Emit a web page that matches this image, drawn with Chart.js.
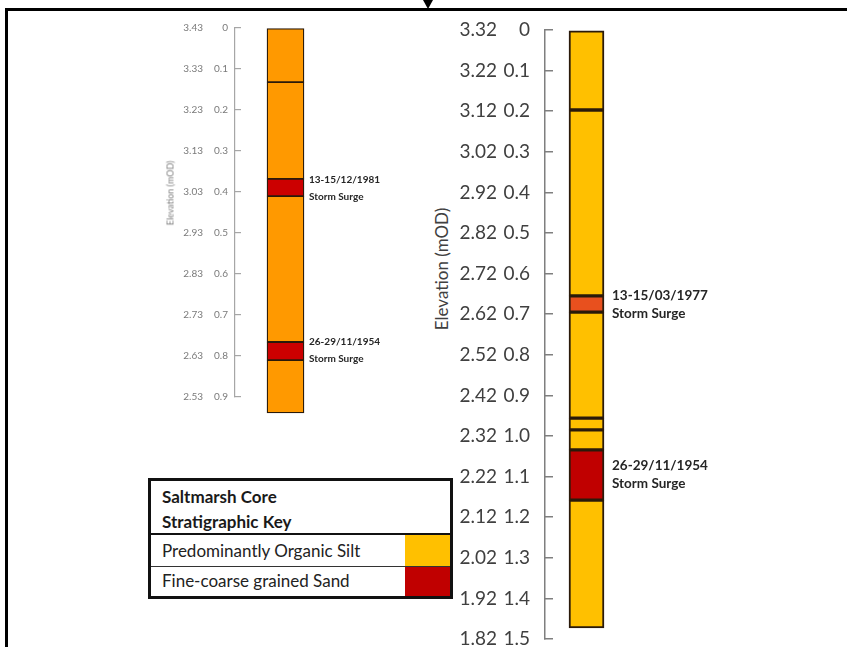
<!DOCTYPE html>
<html>
<head>
<meta charset="utf-8">
<script src="https://cdn.jsdelivr.net/npm/chart.js@4.4.0/dist/chart.umd.min.js"></script>
<style>
  body { margin:0; width:847px; height:647px; overflow:hidden; background:#fff; position:relative; font-family:Lato, "Open Sans", sans-serif; }
  .frame { position:absolute; left:5px; top:8px; width:900px; height:700px; border-left:3px solid #000; border-top:3px solid #000; }
  .arrow { position:absolute; left:423px; top:0; width:0; height:0; border-left:5px solid transparent; border-right:5px solid transparent; border-top:9px solid #000; }
  canvas { position:absolute; }
  #leftCore { left:175px; top:0; }
  #rightCore { left:455px; top:0; }
  .ytitle { position:absolute; white-space:nowrap; transform:translate(-50%,-50%) rotate(-90deg); }
  #leftTitle { left:170px; top:193px; font-size:9px; color:#808080; }
  #rightTitle { left:441px; top:269px; font-size:17px; color:#404040; }
  .key { position:absolute; left:148px; top:478px; width:299px; border:3px solid #111; background:#fff; color:#222; font-size:17px; }
  .key .head { height:54px; border-bottom:2px solid #111; font-weight:bold; padding:3px 0 0 11px; box-sizing:border-box; line-height:25px; color:#1a1a1a; }
  .key .row { display:flex; height:31px; line-height:31px; }
  .key .row + .row { border-top:1px solid #333; height:29px; line-height:28px; }
  .key .lab { flex:1; padding-left:11px; }
  .key .sw { width:45px; }
</style>
</head>
<body>
<div class="frame"></div>
<div class="arrow"></div>

<canvas id="leftCore" width="230" height="430"></canvas>
<canvas id="rightCore" width="300" height="660"></canvas>
<div class="ytitle" id="leftTitle">Elevation (mOD)</div>
<div class="ytitle" id="rightTitle">Elevation (mOD)</div>

<div class="key">
  <div class="head">Saltmarsh Core<br>Stratigraphic Key</div>
  <div class="row"><div class="lab">Predominantly Organic Silt</div><div class="sw" id="swSilt"></div></div>
  <div class="row"><div class="lab">Fine-coarse grained Sand</div><div class="sw" id="swSand"></div></div>
</div>

<script>
// ---- left core (depth below surface, m) ----
const leftTop  = [0, 0.132, 0.368, 0.41, 0.766, 0.81];
const leftBase = [0.132, 0.368, 0.41, 0.766, 0.81, 0.939];
const leftUnit = ['silt','silt','sand','silt','sand','silt'];
const leftDepthTicks = ['0','0.1','0.2','0.3','0.4','0.5','0.6','0.7','0.8','0.9'];
const leftElevTicks  = ['3.43','3.33','3.23','3.13','3.03','2.93','2.83','2.73','2.63','2.53'];
const leftEvents = ['13-15/12/1981','26-29/11/1954'];
const leftEventDepth = [0.371, 0.766];

// ---- right core ----
const rightTop  = [0, 0.197, 0.655, 0.695, 0.956, 0.985, 1.034, 1.158];
const rightBase = [0.197, 0.655, 0.695, 0.956, 0.985, 1.034, 1.158, 1.473];
const rightUnit = ['silt','silt','surge','silt','silt','silt','sand','silt'];
const rightDepthTicks = ['0','0.1','0.2','0.3','0.4','0.5','0.6','0.7','0.8','0.9','1.0','1.1','1.2','1.3','1.4','1.5'];
const rightElevTicks  = ['3.32','3.22','3.12','3.02','2.92','2.82','2.72','2.62','2.52','2.42','2.32','2.22','2.12','2.02','1.92','1.82'];
const rightEvents = ['13-15/03/1977','26-29/11/1954'];
const rightEventDepth = [0.655, 1.074];

const leftColors  = { silt:'#FF9900', sand:'#CC0000' };
const rightColors = { silt:'#FFC000', surge:'#E8501E', sand:'#C00000' };

document.getElementById('swSilt').style.background = rightColors.silt;
document.getElementById('swSand').style.background = rightColors.sand;

// storm surge labels next to the bar
const eventLabels = {
  id: 'eventLabels',
  afterDatasetsDraw(chart, args, o) {
    const ctx = chart.ctx;
    const bar = chart.getDatasetMeta(0).data[0];
    const x = bar.x + bar.width / 2 + o.gap;
    ctx.save();
    ctx.font = 'bold ' + o.size + 'px Lato, sans-serif';
    ctx.fillStyle = '#262626';
    ctx.textBaseline = 'middle';
    o.names.forEach((n, i) => {
      const y = chart.scales.y.getPixelForValue(o.depths[i]);
      ctx.fillText(n, x, y);
      ctx.fillText('Storm Surge', x, y + o.lineHeight);
    });
    ctx.restore();
  }
};

function makeCore(id, cfg) {
  const datasets = cfg.top.map((t, i) => ({
    data: [[t, cfg.base[i]]],
    backgroundColor: cfg.colors[cfg.unit[i]],
    borderColor: '#2a1a0a',
    borderWidth: cfg.border,
    borderSkipped: false,
    grouped: false,
    clip: false,          // core runs a little past the last tick
    barThickness: cfg.barW
  }));
  const vals = cfg.depthTicks.map(Number);
  const setTicks = s => { s.ticks = vals.map(v => ({ value: v })); };
  // fixed axis width, and no extra top/bottom room for the labels
  const fitTo = w => s => { s.width = w; s.paddingTop = 0; s.paddingBottom = 0; };
  new Chart(document.getElementById(id), {
    type: 'bar',
    data: { labels: ['core'], datasets },
    plugins: [eventLabels],
    options: {
      responsive: false,
      animation: false,
      layout: { padding: cfg.pad },
      scales: {
        x: { display: false },
        y: {
          min: 0, max: vals[vals.length - 1], reverse: true, weight: 0,
          afterBuildTicks: setTicks,
          afterFit: fitTo(cfg.depthW),
          border: { display: true, color: cfg.axisColor, width: cfg.axisW },
          // negative tick length puts the tick marks on the inner side of the axis line
          grid: { drawOnChartArea: false, drawTicks: true, tickLength: -cfg.tickLen, color: cfg.axisColor, lineWidth: cfg.axisW },
          ticks: { padding: cfg.labelGap + cfg.tickLen, color: cfg.textColor, font: { family: 'Lato', size: cfg.fontSize },
                   callback: (v, i) => cfg.depthTicks[i] }
        },
        yElev: {
          position: 'left', min: 0, max: vals[vals.length - 1], reverse: true, weight: 1,
          afterBuildTicks: setTicks,
          afterFit: fitTo(cfg.elevW),
          border: { display: false },
          grid: { display: false, drawTicks: false },
          ticks: { padding: 3, color: cfg.textColor, font: { family: 'Lato', size: cfg.fontSize },
                   callback: (v, i) => cfg.elevTicks[i] }
        }
      },
      plugins: {
        legend: { display: false },
        tooltip: { enabled: false },
        eventLabels: { names: cfg.events, depths: cfg.eventDepth, gap: cfg.eventGap, size: cfg.eventSize, lineHeight: cfg.eventLine }
      }
    }
  });
}

makeCore('leftCore', {
  top: leftTop, base: leftBase, unit: leftUnit, colors: leftColors,
  depthTicks: leftDepthTicks, elevTicks: leftElevTicks,
  events: leftEvents, eventDepth: leftEventDepth,
  pad: { left: 0, top: 28, right: 69, bottom: 33 },
  elevW: 31, depthW: 29, tickLen: 6, labelGap: 7, barW: 37, border: 1.3,
  axisColor: '#a6a6a6', axisW: 1.2, textColor: '#7a7a7a', fontSize: 10,
  eventSize: 10, eventLine: 17, eventGap: 5
});

makeCore('rightCore', {
  top: rightTop, base: rightBase, unit: rightUnit, colors: rightColors,
  depthTicks: rightDepthTicks, elevTicks: rightElevTicks,
  events: rightEvents, eventDepth: rightEventDepth,
  pad: { left: 0, top: 30, right: 127, bottom: 21 },
  elevW: 45, depthW: 45, tickLen: 8, labelGap: 15, barW: 35, border: 2,
  axisColor: '#7f7f7f', axisW: 1.5, textColor: '#404040', fontSize: 19,
  eventSize: 13.5, eventLine: 18, eventGap: 8
});
</script>
</body>
</html>
